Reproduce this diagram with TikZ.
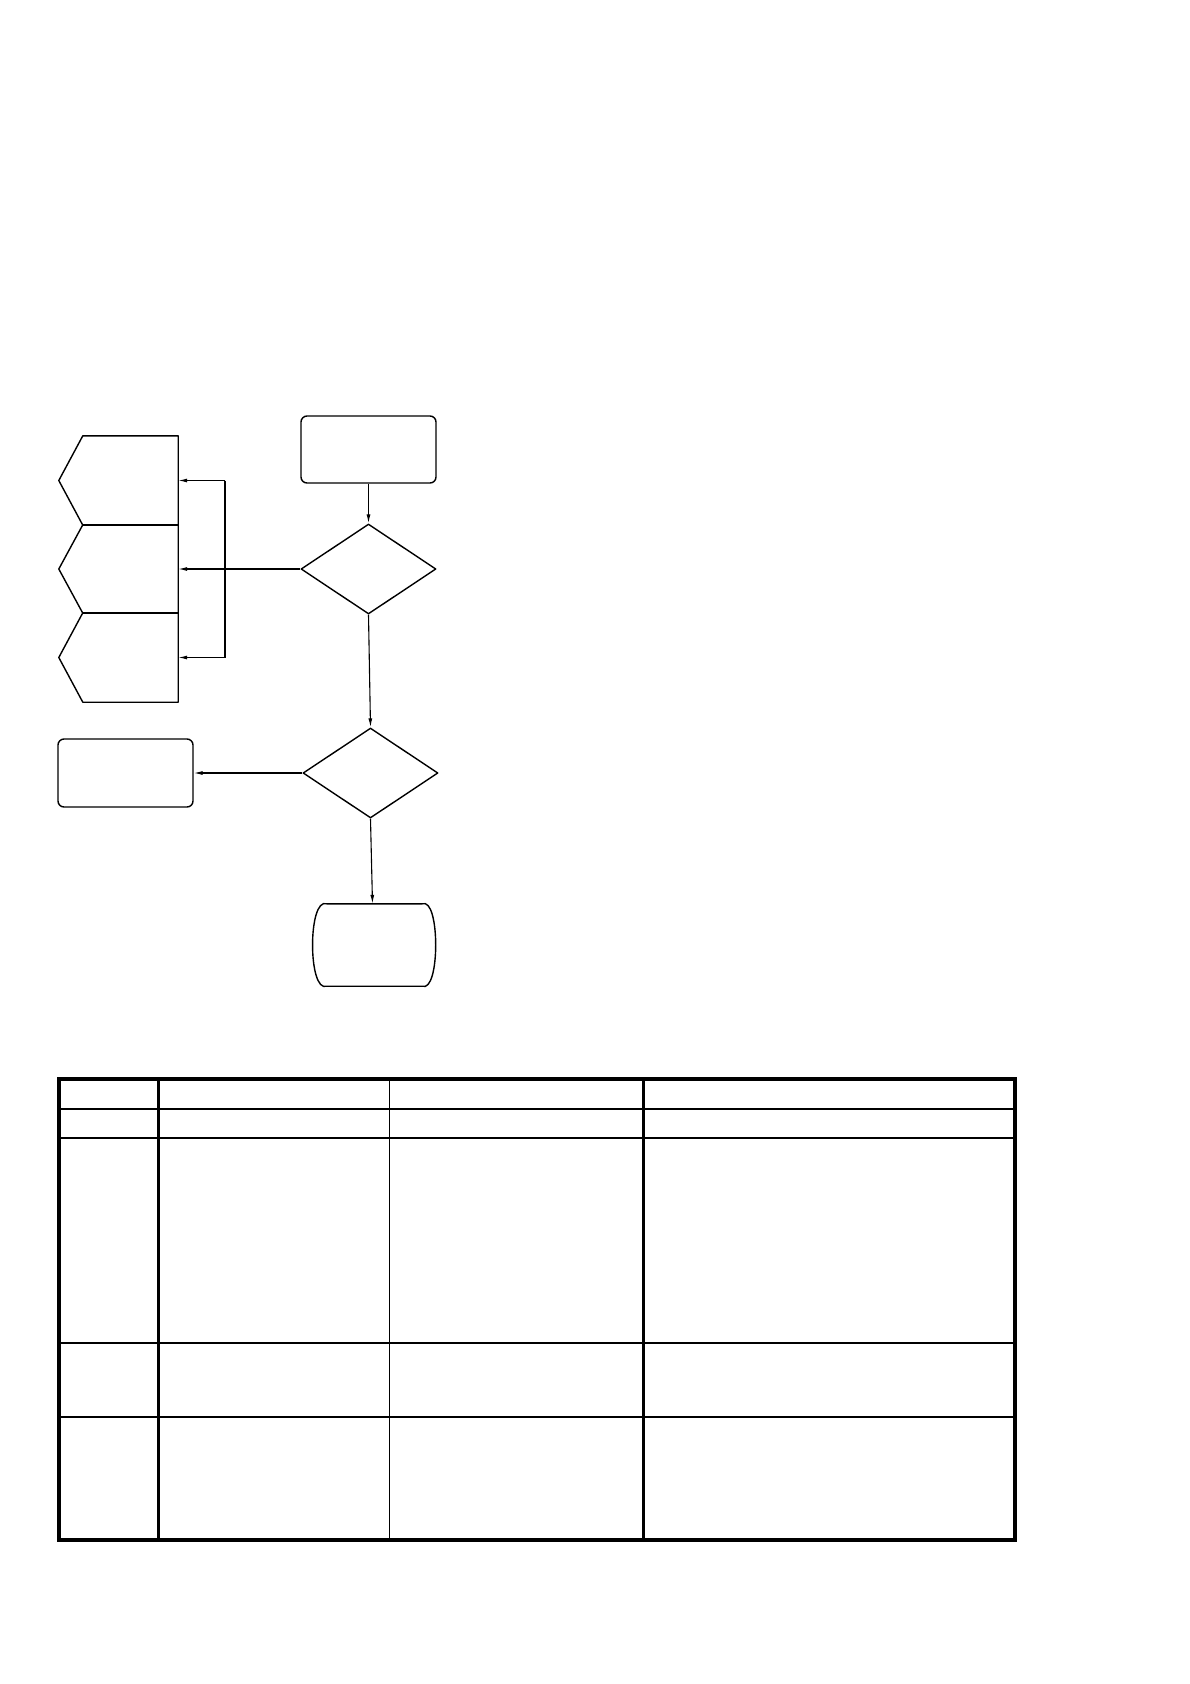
\documentclass[tikz,border=0pt]{standalone}
\usetikzlibrary{shapes.geometric,arrows.meta}
\begin{document}
\begin{tikzpicture}[x=1pt,y=-1pt,
  shapeline/.style={line width=1.4pt,line join=round},
  rbox/.style={shapeline,draw,rectangle,rounded corners=6pt,inner sep=0pt,minimum width=135pt,minimum height=67pt},
  ghost/.style={draw=none,rectangle,inner sep=0pt},
  decision/.style={shapeline,draw,diamond,inner sep=0pt,minimum width=135pt,minimum height=90pt},
  arr/.style={line width=1.1pt,-{Latex[length=9pt,width=4pt]}},
  plainline/.style={line width=1.1pt},
  tbl/.style={line cap=rect}]
\useasboundingbox (0,0) rectangle (1190,1684);
% --- flowchart nodes
\node[rbox] (start) at (368.5,449.5) {};
\node[decision] (d1) at (368.5,569) {};
\node[decision] (d2) at (370.5,773) {};
\node[rbox,minimum height=68pt] (lbox) at (125.5,773) {};
\node[ghost,minimum width=95pt,minimum height=89pt] (p1) at (130.5,480.5) {};
\node[ghost,minimum width=95pt,minimum height=88pt] (p2) at (130.5,569) {};
\node[ghost,minimum width=95pt,minimum height=89pt] (p3) at (130.5,657.5) {};
\node[ghost,minimum width=95pt,minimum height=82pt] (barrel) at (374.5,945) {};
% pentagon outlines
\foreach \p in {p1,p2,p3}{
  \draw[shapeline] (\p.north east) -- (\p.north west) -- ([xshift=-24pt]\p.west) -- (\p.south west) -- (\p.south east) -- cycle;
}
% barrel outline
\draw[shapeline] (barrel.north west) -- (barrel.north east)
  .. controls ([xshift=18pt,yshift=7pt]barrel.north east) and ([xshift=18pt,yshift=-7pt]barrel.south east) .. (barrel.south east)
  -- (barrel.south west)
  .. controls ([xshift=-19pt,yshift=-7pt]barrel.south west) and ([xshift=-19pt,yshift=7pt]barrel.north west) .. (barrel.north west) -- cycle;
% --- connectors
\coordinate (j1) at (225,480.5);
\coordinate (j3) at (225,657.5);
\draw[arr] (start.south) -- (d1.north);
\draw[arr] (d1.west) -- (p2.east);
\draw[plainline] (j1) -- (j3);
\draw[arr] (j1) -- (p1.east);
\draw[arr] (j3) -- (p3.east);
\draw[arr] (d1.south) -- (d2.north);
\draw[arr] (d2.west) -- (lbox.east);
\draw[arr] (d2.south) -- ([xshift=-2pt]barrel.north);
% --- table
\draw[tbl,line width=2.6pt] (59,1109) -- (1015,1109);
\draw[tbl,line width=1.8pt] (59,1138) -- (1015,1138);
\draw[tbl,line width=2.4pt] (59,1343) -- (1015,1343);
\draw[tbl,line width=1.6pt] (59,1417) -- (1015,1417);
\draw[tbl,line width=2.6pt] (158.5,1079) -- (158.5,1540);
\draw[tbl,line width=0.9pt] (389.5,1079) -- (389.5,1540);
\draw[tbl,line width=2.1pt] (643.5,1079) -- (643.5,1540);
\draw[line width=3.2pt] (59,1079) rectangle (1015,1540);
\end{tikzpicture}
\end{document}
